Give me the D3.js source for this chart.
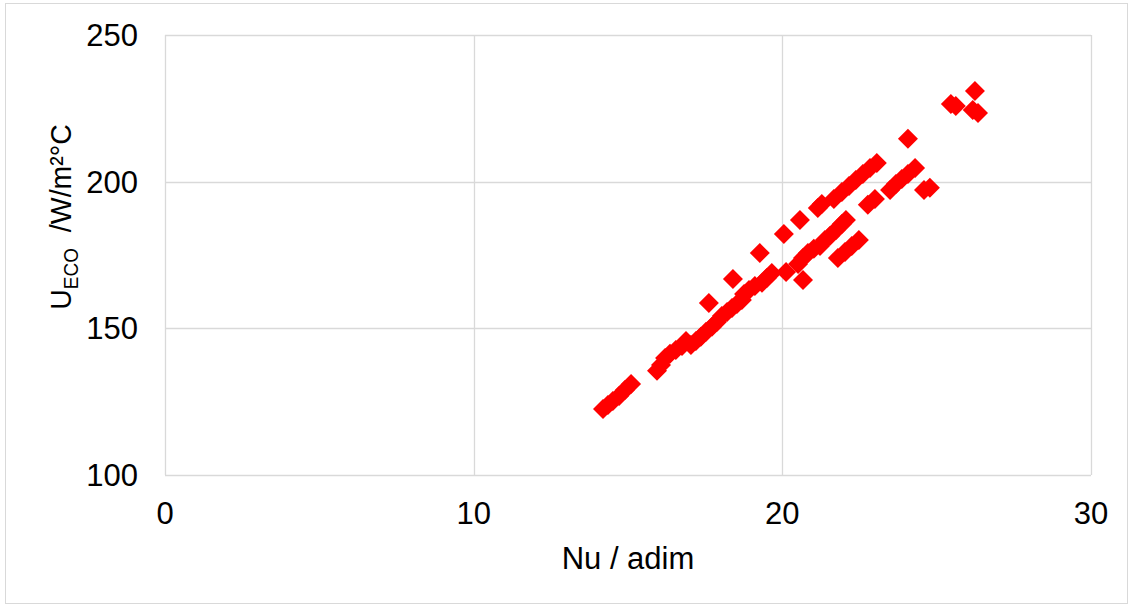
<!DOCTYPE html>
<html>
<head>
<meta charset="utf-8">
<script src="https://cdn.jsdelivr.net/npm/d3@7"></script>
<style>
  body { margin: 0; background: #fff; }
  text { font-family: "Liberation Sans", Arial, sans-serif; fill: #000; }
</style>
</head>
<body>
<svg width="1133" height="607"></svg>
<script>
// Nu (x) and U_ECO (y)
var nu = [14.19, 14.35, 14.51, 14.71, 14.90, 15.10, 15.94, 16.07, 16.20, 16.36,
          16.55, 16.75, 16.88, 17.04, 17.20, 17.36, 17.53, 17.62, 17.72, 17.88,
          18.04, 18.21, 18.40, 18.37, 18.53, 18.69, 18.76, 18.92, 19.11, 19.27,
          19.34, 19.50, 19.66, 20.05, 20.12, 20.57, 20.67, 20.51, 20.67, 20.83,
          21.02, 21.15, 21.28, 21.22, 21.38, 21.54, 21.74, 21.93, 22.06, 21.80,
          22.03, 22.25, 22.48, 21.67, 21.93, 22.16, 22.38, 22.61, 22.84, 23.06,
          22.77, 23.00, 23.49, 23.68, 23.87, 24.07, 24.30, 24.07, 24.59, 24.78,
          25.46, 25.62, 26.24, 26.17, 26.34];
var ueco = [122.5, 123.9, 125.2, 126.9, 129.0, 131.0, 135.5, 137.5, 139.9, 141.3,
            142.6, 144.0, 145.7, 144.3, 145.7, 147.1, 148.8, 158.6, 150.5, 152.2,
            154.2, 155.6, 166.8, 156.9, 158.3, 159.7, 161.7, 163.1, 164.4, 175.7,
            165.5, 167.2, 168.9, 182.2, 169.2, 186.9, 166.5, 171.9, 174.0, 175.7,
            177.1, 191.0, 192.4, 178.1, 180.1, 181.5, 183.5, 185.6, 186.9, 174.0,
            176.0, 178.1, 180.1, 194.1, 196.5, 198.5, 200.6, 202.6, 204.7, 206.4,
            192.1, 194.1, 197.2, 199.2, 200.9, 202.6, 204.7, 214.6, 197.2, 197.9,
            226.5, 225.8, 230.9, 224.4, 223.4];
var xTicks = [0, 10, 20, 30];
var yTicks = [100, 150, 200, 250];

var svg = d3.select("svg");

// outer chart frame
svg.append("rect")
    .attr("x", 5.5).attr("y", 3.5)
    .attr("width", 1122).attr("height", 600)
    .attr("fill", "none").attr("stroke", "#d9d9d9");

var x = d3.scaleLinear().domain([0, 30]).range([165, 1091]);
var y = d3.scaleLinear().domain([100, 250]).range([475, 35]);

// gridlines
svg.append("g").selectAll("line")
    .data(yTicks)
    .enter().append("line")
      .attr("x1", x(0)).attr("x2", x(30))
      .attr("y1", function(d) { return Math.round(y(d)) + 0.5; })
      .attr("y2", function(d) { return Math.round(y(d)) + 0.5; })
      .attr("stroke", "#d9d9d9").attr("stroke-width", 1.3);

svg.append("g").selectAll("line")
    .data(xTicks)
    .enter().append("line")
      .attr("x1", function(d) { return Math.round(x(d)) + 0.5; })
      .attr("x2", function(d) { return Math.round(x(d)) + 0.5; })
      .attr("y1", y(100)).attr("y2", y(250))
      .attr("stroke", "#d9d9d9").attr("stroke-width", 1.3);

// tick labels
svg.append("g").selectAll("text")
    .data(yTicks)
    .enter().append("text")
      .attr("x", 138)
      .attr("y", function(d) { return y(d); })
      .attr("dy", "0.36em")
      .attr("text-anchor", "end")
      .attr("font-size", 31)
      .text(function(d) { return d; });

svg.append("g").selectAll("text")
    .data(xTicks)
    .enter().append("text")
      .attr("x", function(d) { return x(d); })
      .attr("y", 524)
      .attr("text-anchor", "middle")
      .attr("font-size", 31)
      .text(function(d) { return d; });

// axis titles
svg.append("text")
    .attr("x", 628).attr("y", 569)
    .attr("text-anchor", "middle")
    .attr("font-size", 31)
    .text("Nu / adim");

var ylab = svg.append("text")
    .attr("transform", "translate(71,217) rotate(-90) scale(0.95,1)")
    .attr("text-anchor", "middle")
    .attr("font-size", 30);
ylab.append("tspan").text("U");
ylab.append("tspan").attr("font-size", 20).attr("dy", 7).text("ECO");
ylab.append("tspan").attr("dy", -7).text("\u00a0\u00a0/W/m\u00b2\u00b0C");

// points
var pts = nu.map(function(d, i) { return { nu: d, u: ueco[i] }; });
var diamond = d3.symbol().type(d3.symbolSquare).size(200);

svg.append("g").selectAll("path")
    .data(pts)
    .enter().append("path")
      .attr("d", diamond)
      .attr("transform", function(d) {
        return "translate(" + x(d.nu) + "," + y(d.u) + ") rotate(45)";
      })
      .attr("fill", "#ff0000");
</script>
</body>
</html>
